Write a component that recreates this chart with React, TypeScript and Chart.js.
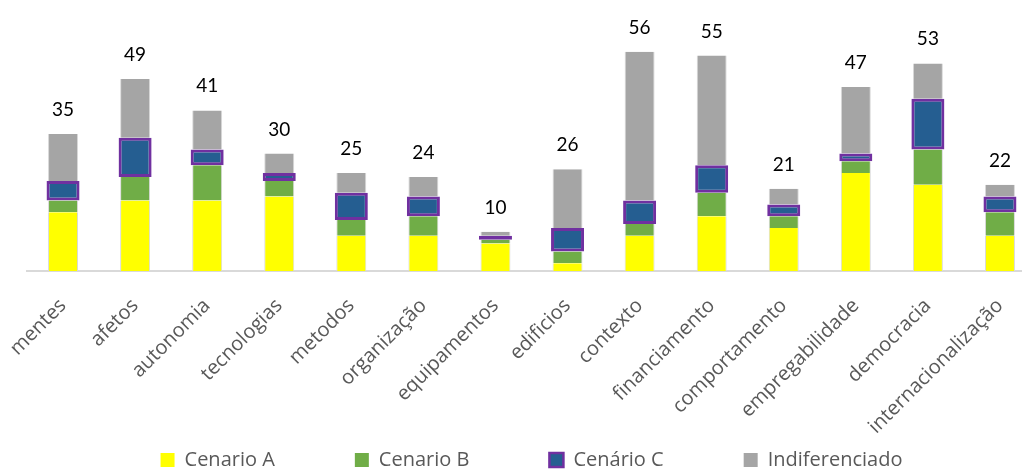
import React, { useEffect, useRef } from "react";
import { Chart, registerables, CategoryScale } from "chart.js";

Chart.register(...registerables);

// Category scale whose tick labels may extend below the axis box
class UnclippedCategoryScale extends (CategoryScale as any) {
  static id = "categoryUnclipped";
  static defaults = (CategoryScale as any).defaults;
  _computeLabelArea() {
    return undefined;
  }
}
Chart.register(UnclippedCategoryScale as any);

const categories = [
  "mentes", "afetos", "autonomia", "tecnologias", "metodos", "organização", "equipamentos",
  "edificios", "contexto", "financiamento", "comportamento", "empregabilidade", "democracia",
  "internacionalização",
];
const cenarioA = [15, 18, 18, 19, 9, 9, 7, 2, 9, 14, 11, 25, 22, 9];
const cenarioB = [3, 6, 9, 4, 4, 5, 1, 3, 3, 6, 3, 3, 9, 6];
const cenarioC = [5, 10, 4, 2, 7, 5, 1, 6, 6, 7, 3, 2, 13, 4];
const indiferenciado = [12, 15, 10, 5, 5, 5, 1, 15, 38, 28, 4, 17, 9, 3];
const seriesNames = ["Cenario A", "Cenario B", "Cenário C", "Indiferenciado"];

const CANVAS_W = 1064;
const CANVAS_H = 480;
const CHART_TOP = 36;
const CHART_BOTTOM = 271;
const LEGEND_FONT = 20;
const LEGEND_PAD = 80;

const totalsPlugin = {
  id: "totals",
  afterDatasetsDraw(chart: any) {
    const ctx = chart.ctx;
    const last = chart.data.datasets.length - 1;
    const meta = chart.getDatasetMeta(last);
    ctx.save();
    ctx.font = "19px Lato";
    ctx.fillStyle = "#000000";
    ctx.textAlign = "center";
    ctx.textBaseline = "alphabetic";
    meta.data.forEach((bar: any, i: number) => {
      let sum = 0;
      chart.data.datasets.forEach((ds: any) => (sum += ds.data[i]));
      ctx.fillText(String(sum), bar.x, bar.y - 18);
    });
    ctx.restore();
  },
};

export default function App() {
  const ref = useRef<HTMLCanvasElement>(null);
  useEffect(() => {
    if (!ref.current) return;
    const sideBorder = { left: 1, right: 1, top: 0, bottom: 0 };
    const chart = new Chart(ref.current, {
      type: "bar",
      data: {
        labels: categories,
        datasets: [
          {
            label: seriesNames[0],
            data: cenarioA,
            backgroundColor: "#FFFF00",
            borderColor: "#D9D9D9",
            borderWidth: sideBorder,
            borderSkipped: false,
          },
          {
            label: seriesNames[1],
            data: cenarioB,
            backgroundColor: "#70AD47",
            borderColor: "#D9D9D9",
            borderWidth: sideBorder,
            borderSkipped: false,
          },
          {
            label: seriesNames[2],
            data: cenarioC,
            backgroundColor: "#255E91",
            borderColor: "#7030A0",
            borderWidth: 3,
            borderSkipped: false,
            barPercentage: 0.458,
          },
          {
            label: seriesNames[3],
            data: indiferenciado,
            backgroundColor: "#A5A5A5",
            borderColor: "#D9D9D9",
            borderWidth: sideBorder,
            borderSkipped: false,
          },
        ],
      } as any,
      options: {
        responsive: false,
        animation: false,
        maintainAspectRatio: false,
        layout: { padding: { top: CHART_TOP, left: 27, right: 28, bottom: 0 } },
        datasets: { bar: { categoryPercentage: 1, barPercentage: 0.416 } },
        plugins: {
          tooltip: { enabled: false },
          legend: {
            position: "bottom",
            labels: {
              font: { family: "Open Sans", size: LEGEND_FONT },
              color: "#595959",
              boxWidth: 14,
              boxHeight: 14,
              padding: LEGEND_PAD,
              generateLabels: (c: any) =>
                Chart.defaults.plugins.legend.labels.generateLabels(c).map((it: any, i: number) => {
                  if (i === 2) {
                    it.lineWidth = 2.5;
                    it.strokeStyle = "#7030A0";
                  } else {
                    it.lineWidth = 0;
                  }
                  return it;
                }),
            },
          },
        },
        scales: {
          x: {
            type: "categoryUnclipped",
            stacked: true,
            grid: { display: false, drawTicks: false },
            border: { display: true, color: "#D9D9D9", width: 2 },
            ticks: {
              autoSkip: false,
              minRotation: 45,
              maxRotation: 45,
              padding: 23,
              color: "#595959",
              font: { family: "Open Sans", size: 20 },
            },
            afterFit: (scale: any) => {
              const legendH = LEGEND_FONT + LEGEND_PAD + 10;
              scale.height = CANVAS_H - legendH - CHART_BOTTOM;
              scale.paddingLeft = 0;
              scale.paddingRight = 0;
            },
          },
          y: {
            stacked: true,
            display: false,
            min: 0,
            max: 60,
          },
        },
      } as any,
      plugins: [totalsPlugin],
    });
    return () => chart.destroy();
  }, []);

  return (
    <div
      style={{
        position: "fixed",
        left: 0,
        top: 0,
        width: 1022,
        height: 470,
        overflow: "hidden",
        background: "#ffffff",
      }}
    >
      <canvas
        ref={ref}
        width={CANVAS_W}
        height={CANVAS_H}
        style={{ width: CANVAS_W, height: CANVAS_H, display: "block" }}
      />
    </div>
  );
}
